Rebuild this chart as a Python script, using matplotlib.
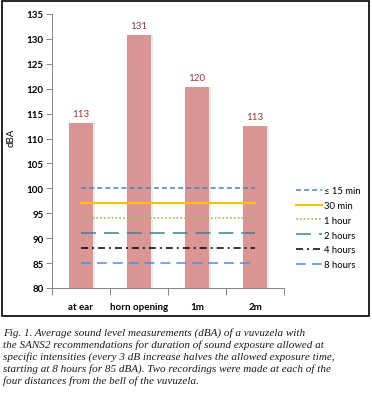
import matplotlib
matplotlib.use("Agg")
import matplotlib.pyplot as plt
from matplotlib.patches import Rectangle
import numpy as np

categories = ["at ear", "horn opening", "1m", "2m"]
measured = [113.1, 130.7, 120.3, 112.6]
bar_labels = ["113", "131", "120", "113"]

limit_names = ["\u2264 15 min", "30 min", "1 hour", "2 hours", "4 hours", "8 hours"]
limit_levels = [100, 97, 94, 91, 88, 85]

yticks = [80, 85, 90, 95, 100, 105, 110, 115, 120, 125, 130, 135]

line_styles = [
    ("#4F81BD", (0, (3.3, 2.0)), 1.1),
    ("#FFC000", "-", 1.5),
    ("#9BBB59", (0, (1.2, 1.3)), 1.1),
    ("#31859C", (0, (9.8, 5.2)), 1.1),
    ("#000000", (0, (4.6, 2.6, 1.3, 2.6)), 1.1),
    ("#558ED5", (0, (6.5, 3.9)), 1.1),
]

sans = ["Lato", "DejaVu Sans"]

fig = plt.figure(figsize=(3.72, 4.06), dpi=100)
W, H = 372, 406
ax = fig.add_axes([52 / W, 1 - 289 / H, 232 / W, 274 / H])

x = np.arange(len(categories))
# soft shadow on the right side of the bars
ax.bar(x + 0.04, np.array(measured) - 80, bottom=80, width=0.4,
       color="#b0b0b0", alpha=0.25, zorder=1)
ax.bar(x, np.array(measured) - 80, bottom=80, width=0.4,
       color="#D99694", zorder=2)
for xi, val, lab in zip(x, measured, bar_labels):
    ax.text(xi, val + 1.0, lab, ha="center", va="bottom", fontsize=7,
            color="#953735", family=sans)

for (name, level), (col, ls, lw) in zip(zip(limit_names, limit_levels), line_styles):
    ax.plot([x[0], x[-1]], [level, level], color=col, linestyle=ls,
            linewidth=lw, label=name, zorder=3)

ax.set_xlim(-0.5, 3.5)
ax.set_ylim(80, 135)
ax.set_yticks(yticks)
ax.set_yticklabels([str(t) for t in yticks], fontsize=7, fontweight="bold",
                   family=sans)
ax.set_xticks(x)
ax.set_xticklabels(categories, fontsize=7, fontweight="bold", family=sans)
ax.set_xticks(np.arange(-0.5, 4.0, 1.0), minor=True)
ax.tick_params(axis="x", which="major", length=0, pad=10)
ax.tick_params(axis="x", which="minor", length=5, color="#868686", width=0.7)
ax.tick_params(axis="y", length=4, color="#868686", width=0.7, pad=2)
for side in ["top", "right"]:
    ax.spines[side].set_visible(False)
for side in ["left", "bottom"]:
    ax.spines[side].set_color("#868686")
    ax.spines[side].set_linewidth(0.7)
ax.set_ylabel("dBA", fontsize=7, family=sans)
ax.yaxis.set_label_coords(-36 / 232, 0.55)

ax.legend(loc="upper left", bbox_to_anchor=(296 / W, 1 - 187 / H),
          bbox_transform=fig.transFigure, frameon=False,
          handlelength=2.7, handletextpad=0.25, labelspacing=0.62,
          borderpad=0, borderaxespad=0,
          prop={"family": sans, "size": 6.8})

# chart border
fig.patches.append(Rectangle((2 / W, 1 - 317 / H), 367 / W, 315 / H,
                             transform=fig.transFigure, fill=False,
                             edgecolor="black", linewidth=1.2))

caption = [
    "Fig. 1. Average sound level measurements (dBA) of a vuvuzela with",
    "the SANS2 recommendations for duration of sound exposure allowed at",
    "specific intensities (every 3 dB increase halves the allowed exposure time,",
    "starting at 8 hours for 85 dBA). Two recordings were made at each of the",
    "four distances from the bell of the vuvuzela.",
]
for i, line in enumerate(caption):
    fig.text(3 / W, 1 - (333 + 12 * i) / H, line, ha="left", va="center",
             fontsize=8.0, style="italic", family="Liberation Serif",
             color="#1a1a1a")

fig.savefig("out.png", dpi=100)
